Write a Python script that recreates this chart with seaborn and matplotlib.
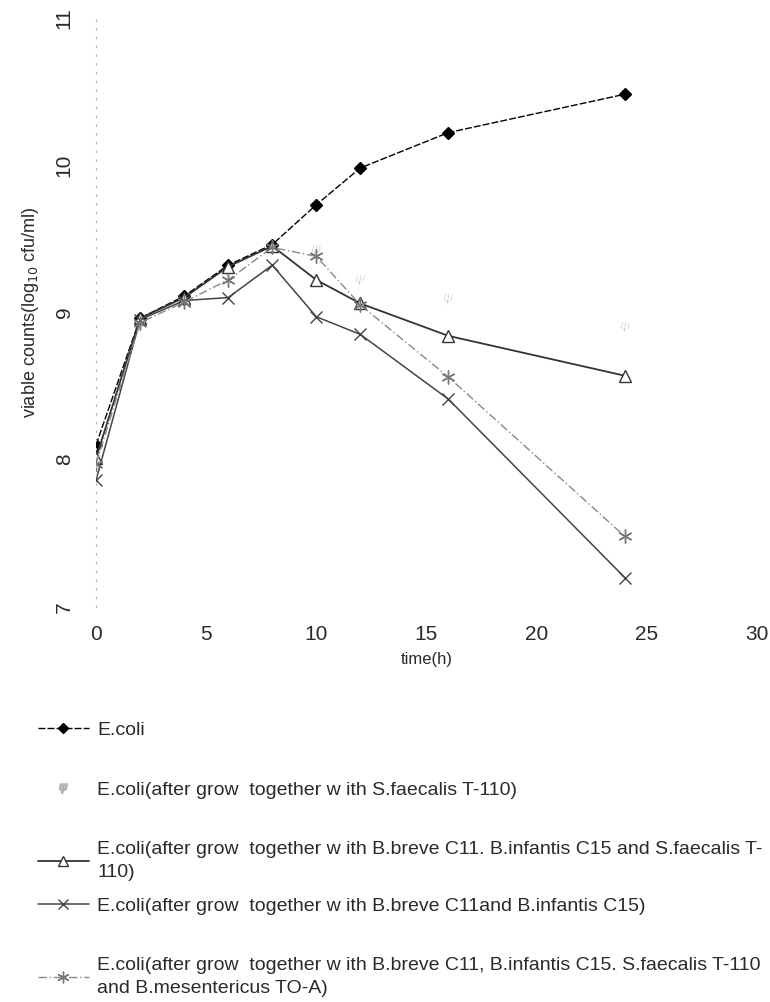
import seaborn as sns
import matplotlib.pyplot as plt
from matplotlib.lines import Line2D

# sampling times (h)
time_h = [0, 2, 4, 6, 8, 10, 12, 16, 24]

# viable counts, log10 cfu/ml
ecoli = [8.10, 8.96, 9.11, 9.32, 9.46, 9.73, 9.98, 10.22, 10.48]
ecoli_sf = [8.03, 8.92, 9.07, 9.28, 9.42, 9.42, 9.22, 9.09, 8.90]
ecoli_bb_bi_sf = [8.01, 8.96, 9.10, 9.31, 9.45, 9.22, 9.06, 8.84, 8.57]
ecoli_bb_bi = [7.86, 8.95, 9.08, 9.10, 9.32, 8.97, 8.85, 8.41, 7.20]
ecoli_all = [7.97, 8.93, 9.07, 9.22, 9.44, 9.38, 9.05, 8.56, 7.48]

labels = [
    "E.coli",
    "E.coli(after grow  together w ith S.faecalis T-110)",
    "E.coli(after grow  together w ith B.breve C11. B.infantis C15 and S.faecalis T-\n110)",
    "E.coli(after grow  together w ith B.breve C11and B.infantis C15)",
    "E.coli(after grow  together w ith B.breve C11, B.infantis C15. S.faecalis T-110\nand B.mesentericus TO-A)",
]

x_ticks = [0, 5, 10, 15, 20, 25, 30]
y_ticks = [7, 8, 9, 10, 11]

sns.set_style("white")
plt.rcParams["font.family"] = ["Liberation Sans", "DejaVu Sans"]
txt = "#2a2a2a"

fig = plt.figure(figsize=(7.7, 10.02), dpi=100)
ax = fig.add_axes([0.1247, 0.3942, 0.8583, 0.5882])

styles = [
    dict(color="black", marker="D", markersize=6, lw=1.0, ls=(0, (5, 1.5)),
         mfc="black", mec="black"),
    dict(color="#b0b0b0", marker=r"$\psi$", markersize=8, lw=0, ls="none",
         mfc="#b0b0b0", mec="#b0b0b0"),
    dict(color="#333333", marker="^", markersize=9, lw=1.3, ls="-",
         mfc="white", mec="#333333"),
    dict(color="#444444", marker="x", markersize=9, lw=1.1, ls="-",
         mfc="#444444", mec="#444444"),
    dict(color="#888888", marker=(6, 2, 0), markersize=10, lw=1.0, ls=(0, (6, 2, 1, 2)),
         mfc="#777777", mec="#777777"),
]
series = [ecoli, ecoli_sf, ecoli_bb_bi_sf, ecoli_bb_bi, ecoli_all]

for vals, st in zip(series, styles):
    if st["ls"] == "none":
        sns.scatterplot(x=time_h, y=vals, ax=ax, marker=st["marker"], s=st["markersize"] ** 2,
                        color=st["color"], linewidth=0.6, legend=False)
    else:
        sns.lineplot(x=time_h, y=vals, ax=ax, color=st["color"], lw=st["lw"],
                     linestyle=st["ls"], marker=st["marker"], markersize=st["markersize"],
                     markerfacecolor=st["mfc"], markeredgecolor=st["mec"],
                     markeredgewidth=1.0, legend=False)

ax.set_xlim(0, 30)
ax.set_ylim(7, 11)
ax.set_xticks(x_ticks)
ax.set_yticks(y_ticks)
ax.tick_params(axis="x", length=0, pad=13, labelsize=15, labelcolor=txt)
ax.tick_params(axis="y", length=0, pad=16, labelsize=15, labelcolor=txt)
for lab in ax.get_yticklabels():
    lab.set_rotation(90)
    lab.set_va("center")

sns.despine(ax=ax, top=True, right=True, left=False, bottom=True)
ax.spines["left"].set_linestyle((0, (1, 6)))
ax.spines["left"].set_color("#b5b5b5")
ax.spines["left"].set_linewidth(0.9)

ax.set_xlabel("time(h)", fontsize=12, color=txt, labelpad=6)
ax.set_ylabel("viable counts(log$_{10}$ cfu/ml)", fontsize=13, color=txt, labelpad=10)

# legend: one entry per row, placed like the original figure
rows_y = [730, 790, 861, 906, 977]
for lab, st, yp in zip(labels, styles, rows_y):
    h = Line2D([], [], color=st["color"], lw=st["lw"] if st["lw"] else 0,
               linestyle=st["ls"] if st["ls"] != "none" else "none",
               marker=st["marker"], markersize=st["markersize"] * 0.85,
               markerfacecolor=st["mfc"], markeredgecolor=st["mec"])
    leg = fig.legend([h], [lab], loc="center left", bbox_to_anchor=(38 / 770, 1 - yp / 1002),
                     frameon=False, fontsize=14, handlelength=2.6, handletextpad=0.45,
                     borderpad=0, borderaxespad=0, labelcolor=txt)
    for t in leg.get_texts():
        t.set_linespacing(1.5)

fig.savefig("out.png", dpi=100)
